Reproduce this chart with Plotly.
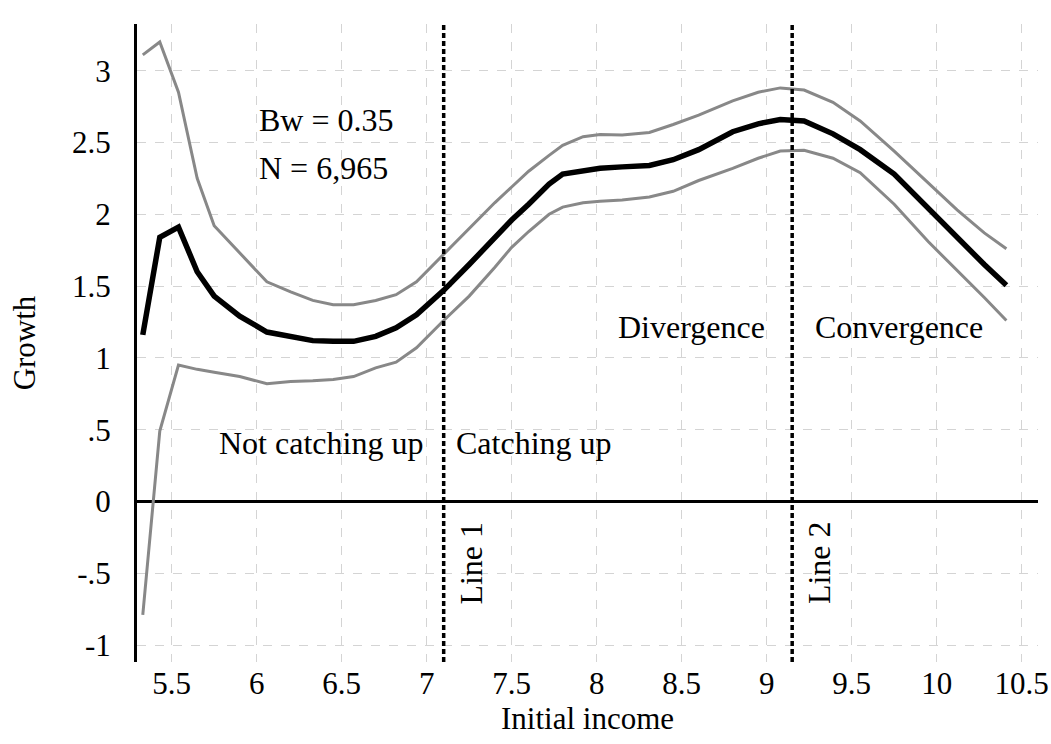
import plotly.graph_objects as go

income = [5.33, 5.43, 5.54, 5.65, 5.75, 5.9, 6.06, 6.2, 6.33, 6.45, 6.57, 6.7, 6.82, 6.94,
          7.1, 7.25, 7.4, 7.5, 7.6, 7.72, 7.8, 7.92, 8.02, 8.15, 8.31, 8.45, 8.6, 8.8,
          8.95, 9.08, 9.22, 9.39, 9.55, 9.75, 9.95, 10.12, 10.28, 10.41]
growth = [1.16, 1.84, 1.91, 1.60, 1.43, 1.29, 1.18, 1.15, 1.12, 1.115, 1.115, 1.15, 1.21, 1.30,
          1.47, 1.65, 1.84, 1.96, 2.07, 2.21, 2.28, 2.305, 2.32, 2.33, 2.34, 2.38, 2.45, 2.575,
          2.63, 2.66, 2.65, 2.56, 2.45, 2.28, 2.04, 1.83, 1.65, 1.505]
upper = [3.11, 3.20, 2.85, 2.25, 1.92, 1.73, 1.53, 1.46, 1.40, 1.37, 1.37, 1.40, 1.44, 1.53,
         1.72, 1.90, 2.08, 2.19, 2.30, 2.41, 2.48, 2.54, 2.556, 2.552, 2.57, 2.625, 2.69, 2.79,
         2.85, 2.88, 2.865, 2.78, 2.65, 2.44, 2.22, 2.03, 1.87, 1.76]
lower = [-0.79, 0.49, 0.95, 0.92, 0.90, 0.87, 0.82, 0.835, 0.84, 0.85, 0.87, 0.93, 0.97, 1.07,
         1.26, 1.43, 1.63, 1.77, 1.88, 2.00, 2.05, 2.08, 2.09, 2.10, 2.12, 2.16, 2.235, 2.32,
         2.39, 2.44, 2.445, 2.39, 2.29, 2.07, 1.81, 1.61, 1.42, 1.26]

line_x = [7.1, 9.15]
line_labels = ["Line 1", "Line 2"]

x_ticks = [5.5, 6, 6.5, 7, 7.5, 8, 8.5, 9, 9.5, 10, 10.5]
x_ticktext = ["5.5", "6", "6.5", "7", "7.5", "8", "8.5", "9", "9.5", "10", "10.5"]
y_ticks = [-1, -0.5, 0, 0.5, 1, 1.5, 2, 2.5, 3]
y_ticktext = ["-1", "-.5", "0", ".5", "1", "1.5", "2", "2.5", "3"]

region_labels = ["Not catching up", "Catching up", "Divergence", "Convergence"]
region_x = [6.378, 7.631, 8.559, 9.778]
region_y = [0.41, 0.41, 1.214, 1.214]

stats_text = ["Bw = 0.35", "N = 6,965"]
stats_y = [2.657, 2.32]

FONT = "Liberation Serif, Times New Roman, serif"
FS = 31
FA = 32

fig = go.Figure()
fig.add_trace(go.Scatter(x=income, y=upper, mode="lines",
                         line=dict(color="#888888", width=3), showlegend=False))
fig.add_trace(go.Scatter(x=income, y=lower, mode="lines",
                         line=dict(color="#888888", width=3), showlegend=False))
fig.add_trace(go.Scatter(x=income, y=growth, mode="lines",
                         line=dict(color="black", width=5.5), showlegend=False))

for xv, lab in zip(line_x, line_labels):
    fig.add_shape(type="line", x0=xv, x1=xv, y0=0, y1=1, xref="x", yref="paper",
                  line=dict(color="black", width=3.5, dash="5px,3px"))
    fig.add_annotation(x=xv, y=-0.428, xref="x", yref="y", text=lab, showarrow=False,
                       textangle=-90, xanchor="left", xshift=7,
                       font=dict(family=FONT, size=FA, color="black"))

for lab, xv, yv in zip(region_labels, region_x, region_y):
    fig.add_annotation(x=xv, y=yv, text=lab, showarrow=False,
                       font=dict(family=FONT, size=FA, color="black"))

for lab, yv in zip(stats_text, stats_y):
    fig.add_annotation(x=6.0, y=yv, text=lab, showarrow=False, xanchor="left",
                       font=dict(family=FONT, size=FA, color="black"))

fig.update_layout(
    width=1051, height=744,
    margin=dict(l=137, r=13, t=24, b=82, autoexpand=False),
    paper_bgcolor="white", plot_bgcolor="white",
    font=dict(family=FONT, size=FS, color="black"),
    xaxis=dict(range=[5.296, 10.596], tickvals=x_ticks, ticktext=x_ticktext,
               showgrid=True, gridcolor="#d4d4d4", griddash="dash", gridwidth=1,
               zeroline=False, showline=False, ticks="", automargin=False,
               title=dict(text="Initial income", standoff=0,
                          font=dict(family=FONT, size=FS))),
    yaxis=dict(range=[-1.118, 3.325], tickvals=y_ticks, ticktext=y_ticktext,
               showgrid=True, gridcolor="#d4d4d4", griddash="dash", gridwidth=1,
               zeroline=True, zerolinecolor="black", zerolinewidth=2.5,
               showline=True, linecolor="black", linewidth=3, ticks="",
               ticklabelstandoff=17, automargin=False,
               title=dict(text="Growth", standoff=28,
                          font=dict(family=FONT, size=FS))),
)

fig.write_html("out.html")
